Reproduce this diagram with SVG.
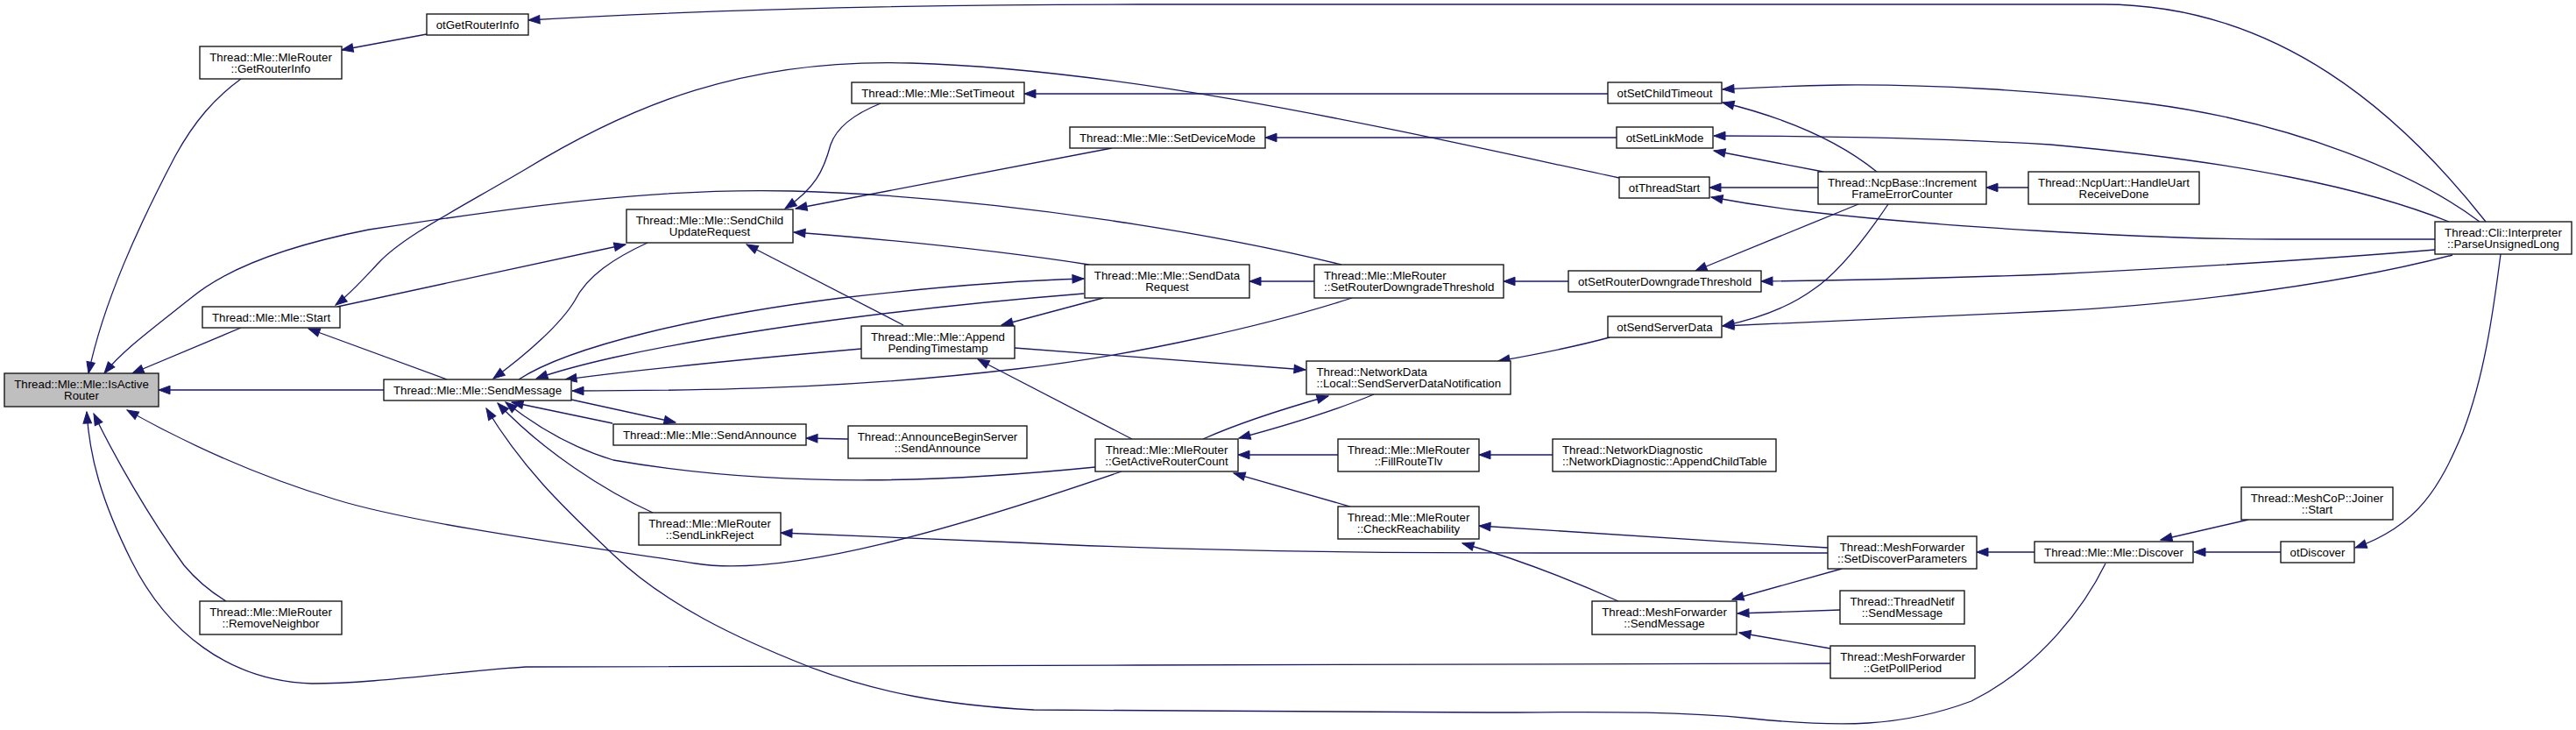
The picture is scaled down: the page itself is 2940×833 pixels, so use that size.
<svg xmlns="http://www.w3.org/2000/svg" width="2940" height="833" viewBox="0 0 2940 833">
<style>
.n rect{fill:#fff;stroke:#1a1a1a;stroke-width:1.4}
.n.m rect{fill:#bfbfbf}
.n text{font-family:"Liberation Sans",Arial,sans-serif;font-size:13.3px;fill:#000;text-anchor:middle}
.n text.l{text-anchor:start}
#edges path{fill:none;stroke:#191970;stroke-width:1.3;marker-end:url(#ah)}
</style>
<defs>
<marker id="ah" markerUnits="userSpaceOnUse" markerWidth="16" markerHeight="12" refX="13" refY="0" viewBox="-1 -6 16 12" orient="auto" overflow="visible">
<path d="M0,-4.8 L13,0 L0,4.8 Z" fill="#191970" stroke="#191970" stroke-width="1"/>
</marker>
</defs>
<rect width="2940" height="833" fill="#fff"/>
<g id="edges">
<path d="M275,90 C245,112 222,138 200,178 C158,258 118,345 101,426"/>
<path d="M487,39 L390,57"/>
<path d="M2837,253 C2740,130 2600,5 2400,5 L1300,5 C1000,5 750,14 603,23"/>
<path d="M275,374 L151,426"/>
<path d="M438,445 L181,445"/>
<path d="M510,433 L352,375"/>
<path d="M1848,203 C1600,150 1300,80 1040,72 C850,66 720,120 600,193 C520,240 460,270 432,300 C415,318 400,335 383,348"/>
<path d="M385,350 L714,279"/>
<path d="M1531,302 C1400,270 1150,225 905,218 C750,214 600,235 421,262 C330,280 260,305 218,340 C170,378 140,400 119,426"/>
<path d="M1005,118 C975,130 955,145 948,165 C940,195 930,215 896,238"/>
<path d="M1269,169 L908,238"/>
<path d="M1243,302 Q1100,280 906,265"/>
<path d="M1031,371 L852,279"/>
<path d="M739,277 C700,295 670,315 656,343 C640,370 600,405 563,432"/>
<path d="M592,433 C650,395 800,360 960,340 C1080,326 1160,320 1237,318"/>
<path d="M1237,335 C1050,350 850,375 700,408 C660,417 635,424 612,432"/>
<path d="M983,398 C870,408 760,418 645,433"/>
<path d="M1543,340 C1450,370 1300,405 1160,421 C1000,440 850,446 653,446"/>
<path d="M652,456 L771,482"/>
<path d="M699,483 L584,459"/>
<path d="M968,501 L920,500"/>
<path d="M745,585 C690,560 620,515 568,460"/>
<path d="M1250,533 C1100,548 900,560 700,525 C650,510 610,485 577,459"/>
<path d="M2403,643 C2380,690 2330,760 2250,800 C2170,830 2100,830 2000,820 C1900,810 1800,813 1700,813 L1180,810 C1080,805 1000,790 924,761 C840,728 760,690 700,633 C650,585 600,540 555,466"/>
<path d="M1280,538 C1100,600 900,660 794,643 C700,628 480,600 383,570 C300,545 220,510 145,468"/>
<path d="M258,686 C240,675 225,663 210,645 C170,590 130,520 107,472"/>
<path d="M2089,757 L1300,759 C900,760 700,760 600,761 C520,766 430,780 356,780 C260,777 190,720 150,640 C115,570 102,520 99,470"/>
<path d="M2830,253 C2760,200 2620,140 2450,118 C2330,103 2200,96 2100,97 C2050,98 2000,100 1966,102"/>
<path d="M2795,253 C2700,215 2560,185 2340,165 C2200,157 2050,155 1956,155"/>
<path d="M2779,273 L2600,273 C2450,273 2200,258 2050,240 C2010,235 1980,230 1953,225"/>
<path d="M2779,285 C2600,300 2400,310 2340,313 C2200,318 2100,320 2010,321"/>
<path d="M2799,291 C2650,330 2450,350 2340,355 C2200,362 2050,368 1966,372"/>
<path d="M2854,290 C2845,360 2835,430 2811,493 C2785,555 2760,600 2688,625"/>
<path d="M2603,630 L2504,630"/>
<path d="M2566,593 L2466,616"/>
<path d="M2322,630 L2256,630"/>
<path d="M2315,214 L2267,214"/>
<path d="M2142,196 C2110,170 2060,140 1966,117"/>
<path d="M2081,196 L1956,172"/>
<path d="M2075,214 L1951,214"/>
<path d="M2121,233 L1935,309"/>
<path d="M2155,233 C2130,270 2100,310 2070,330 C2040,352 2000,365 1966,372"/>
<path d="M1835,107 L1169,107"/>
<path d="M1845,157 L1444,157"/>
<path d="M1790,321 L1716,321"/>
<path d="M1837,385 C1800,395 1750,405 1710,412"/>
<path d="M1500,321 L1426,321"/>
<path d="M1158,397 L1490,422"/>
<path d="M1373,501 C1420,480 1470,465 1516,452"/>
<path d="M1568,450 C1520,470 1470,485 1414,500"/>
<path d="M1527,519 L1413,519"/>
<path d="M1541,578 L1408,540"/>
<path d="M1292,501 L1116,410"/>
<path d="M1259,340 L1143,371"/>
<path d="M1772,519 L1688,519"/>
<path d="M2086,625 C1950,617 1800,608 1688,600"/>
<path d="M2086,631 L1760,631 C1500,631 1300,626 1160,619 C1050,614 950,610 891,608"/>
<path d="M1847,686 C1800,665 1740,640 1669,620"/>
<path d="M2102,649 L1977,684"/>
<path d="M2100,696 L1983,700"/>
<path d="M2089,740 L1985,722"/>
</g>
<g id="n_isactive" class="n m"><rect x="5" y="426" width="176" height="38"/><text x="93" y="443">Thread::Mle::Mle::IsActive</text><text x="93" y="456.4">Router</text></g>
<g id="n_getrouterinfo" class="n"><rect x="228" y="53" width="162" height="37"/><text x="309" y="70">Thread::Mle::MleRouter</text><text x="309" y="83.4">::GetRouterInfo</text></g>
<g id="n_otgetrouterinfo" class="n"><rect x="487" y="16" width="116" height="24"/><text x="545" y="32.7">otGetRouterInfo</text></g>
<g id="n_start" class="n"><rect x="231" y="350" width="157" height="24"/><text x="309.5" y="366.7">Thread::Mle::Mle::Start</text></g>
<g id="n_removeneighbor" class="n"><rect x="228" y="686" width="162" height="38"/><text x="309" y="703">Thread::Mle::MleRouter</text><text x="309" y="716.4">::RemoveNeighbor</text></g>
<g id="n_sendmessage" class="n"><rect x="438" y="433" width="214" height="24"/><text x="545" y="449.7">Thread::Mle::Mle::SendMessage</text></g>
<g id="n_settimeout" class="n"><rect x="972" y="94" width="197" height="24"/><text x="1070.5" y="110.7">Thread::Mle::Mle::SetTimeout</text></g>
<g id="n_sendchildupdate" class="n"><rect x="715" y="239" width="190" height="38"/><text x="810" y="256">Thread::Mle::Mle::SendChild</text><text x="810" y="269.4">UpdateRequest</text></g>
<g id="n_append" class="n"><rect x="983" y="372" width="175" height="37"/><text x="1070.5" y="389">Thread::Mle::Mle::Append</text><text x="1070.5" y="402.4">PendingTimestamp</text></g>
<g id="n_sendannounce" class="n"><rect x="700" y="484" width="220" height="24"/><text x="810" y="500.7">Thread::Mle::Mle::SendAnnounce</text></g>
<g id="n_announcebegin" class="n"><rect x="968" y="486" width="204" height="37"/><text x="1070" y="503">Thread::AnnounceBeginServer</text><text x="1070" y="516.4">::SendAnnounce</text></g>
<g id="n_sendlinkreject" class="n"><rect x="729" y="585" width="162" height="37"/><text x="810" y="602">Thread::Mle::MleRouter</text><text x="810" y="615.4">::SendLinkReject</text></g>
<g id="n_setdevicemode" class="n"><rect x="1221" y="145" width="223" height="24"/><text x="1332.5" y="161.7">Thread::Mle::Mle::SetDeviceMode</text></g>
<g id="n_senddatarequest" class="n"><rect x="1238" y="302" width="188" height="38"/><text x="1332" y="319">Thread::Mle::Mle::SendData</text><text x="1332" y="332.4">Request</text></g>
<g id="n_setrdt" class="n"><rect x="1500" y="302" width="216" height="38"/><text class="l" x="1511" y="319">Thread::Mle::MleRouter</text><text class="l" x="1511" y="332.4">::SetRouterDowngradeThreshold</text></g>
<g id="n_ssdn" class="n"><rect x="1491" y="412" width="233" height="38"/><text class="l" x="1502.5" y="429">Thread::NetworkData</text><text class="l" x="1502.5" y="442.4">::Local::SendServerDataNotification</text></g>
<g id="n_garc" class="n"><rect x="1250" y="501" width="163" height="37"/><text x="1331.5" y="518">Thread::Mle::MleRouter</text><text x="1331.5" y="531.4">::GetActiveRouterCount</text></g>
<g id="n_fillroutetlv" class="n"><rect x="1527" y="501" width="161" height="37"/><text x="1607.5" y="518">Thread::Mle::MleRouter</text><text x="1607.5" y="531.4">::FillRouteTlv</text></g>
<g id="n_checkreach" class="n"><rect x="1527" y="578" width="161" height="37"/><text x="1607.5" y="595">Thread::Mle::MleRouter</text><text x="1607.5" y="608.4">::CheckReachability</text></g>
<g id="n_otsetchildtimeout" class="n"><rect x="1835" y="94" width="130" height="24"/><text x="1900" y="110.7">otSetChildTimeout</text></g>
<g id="n_otsetlinkmode" class="n"><rect x="1845" y="145" width="110" height="24"/><text x="1900" y="161.7">otSetLinkMode</text></g>
<g id="n_otthreadstart" class="n"><rect x="1848" y="202" width="103" height="24"/><text x="1899.5" y="218.7">otThreadStart</text></g>
<g id="n_ncpbase" class="n"><rect x="2075" y="196" width="192" height="37"/><text x="2171" y="213">Thread::NcpBase::Increment</text><text x="2171" y="226.4">FrameErrorCounter</text></g>
<g id="n_otsetrdt" class="n"><rect x="1790" y="309" width="220" height="24"/><text x="1900" y="325.7">otSetRouterDowngradeThreshold</text></g>
<g id="n_otsendserverdata" class="n"><rect x="1835" y="361" width="130" height="24"/><text x="1900" y="377.7">otSendServerData</text></g>
<g id="n_ncpuart" class="n"><rect x="2315" y="196" width="195" height="37"/><text x="2412.5" y="213">Thread::NcpUart::HandleUart</text><text x="2412.5" y="226.4">ReceiveDone</text></g>
<g id="n_parseul" class="n"><rect x="2779" y="253" width="156" height="37"/><text x="2857" y="270">Thread::Cli::Interpreter</text><text x="2857" y="283.4">::ParseUnsignedLong</text></g>
<g id="n_appendchildtable" class="n"><rect x="1772" y="501" width="255" height="37"/><text class="l" x="1783" y="518">Thread::NetworkDiagnostic</text><text class="l" x="1783" y="531.4">::NetworkDiagnostic::AppendChildTable</text></g>
<g id="n_setdiscoverparams" class="n"><rect x="2086" y="612" width="170" height="37"/><text x="2171" y="629">Thread::MeshForwarder</text><text x="2171" y="642.4">::SetDiscoverParameters</text></g>
<g id="n_mfsendmessage" class="n"><rect x="1817" y="686" width="165" height="38"/><text x="1899.5" y="703">Thread::MeshForwarder</text><text x="1899.5" y="716.4">::SendMessage</text></g>
<g id="n_netifsendmessage" class="n"><rect x="2100" y="674" width="142" height="38"/><text x="2171" y="691">Thread::ThreadNetif</text><text x="2171" y="704.4">::SendMessage</text></g>
<g id="n_getpollperiod" class="n"><rect x="2089" y="737" width="165" height="37"/><text x="2171.5" y="754">Thread::MeshForwarder</text><text x="2171.5" y="767.4">::GetPollPeriod</text></g>
<g id="n_discover" class="n"><rect x="2322" y="618" width="181" height="24"/><text x="2412.5" y="634.7">Thread::Mle::Mle::Discover</text></g>
<g id="n_joinerstart" class="n"><rect x="2558" y="556" width="173" height="37"/><text x="2644.5" y="573">Thread::MeshCoP::Joiner</text><text x="2644.5" y="586.4">::Start</text></g>
<g id="n_otdiscover" class="n"><rect x="2603" y="618" width="84" height="24"/><text x="2645" y="634.7">otDiscover</text></g>
</svg>
